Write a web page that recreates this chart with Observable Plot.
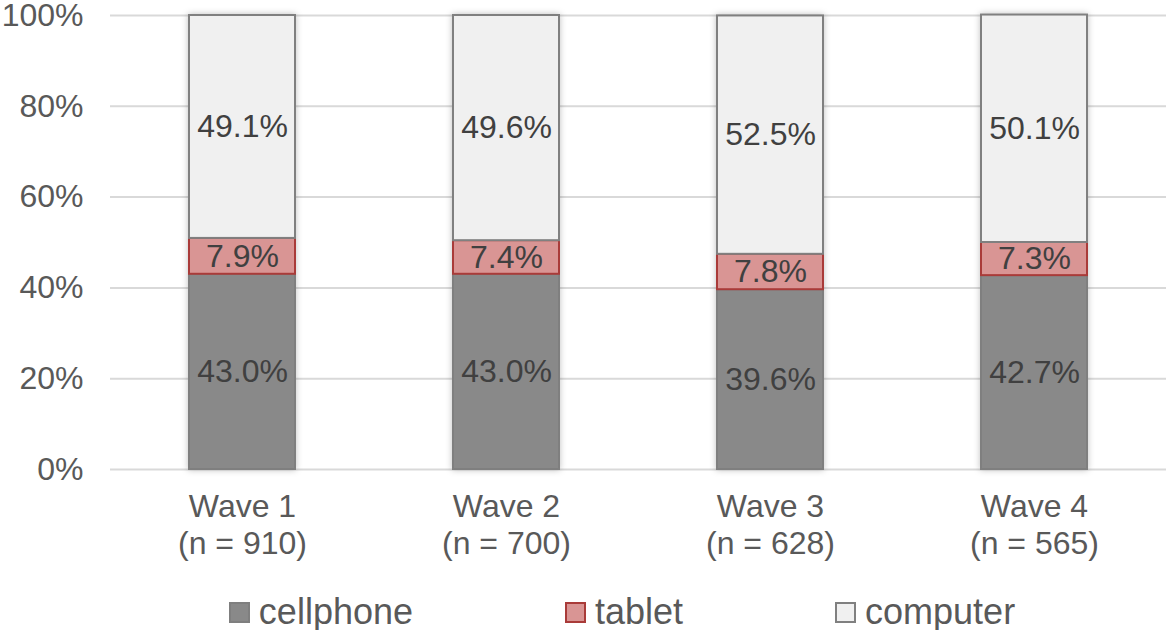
<!DOCTYPE html>
<html>
<head>
<meta charset="utf-8">
<script src="https://cdn.jsdelivr.net/npm/d3@7"></script>
<script src="https://cdn.jsdelivr.net/npm/@observablehq/plot@0.6"></script>
<style>
  body { margin: 0; background: #fff; font-family: "Liberation Sans", Arial, sans-serif; }
  #chart svg { display: block; }
  .legend { display: flex; justify-content: center; align-items: center; gap: 152px; margin-top: 14px; height: 36px; font-size: 36px; color: #595959; padding-left: 76px; }
  .legend .item { display: flex; align-items: center; gap: 9px; }
  .legend .sw { width: 17px; height: 17px; border: 2px solid; }
</style>
</head>
<body>
<div id="chart"></div>
<div class="legend" id="legend"></div>
<script>
const waves = ["Wave 1\n(n = 910)", "Wave 2\n(n = 700)", "Wave 3\n(n = 628)", "Wave 4\n(n = 565)"];
const devices = ["cellphone", "tablet", "computer"];
const cellphone = [43.0, 43.0, 39.6, 42.7];
const tablet = [7.9, 7.4, 7.8, 7.3];
const computer = [49.1, 49.6, 52.5, 50.1];
const yTicks = [0, 20, 40, 60, 80, 100];

const fills = ["#898989", "#d99594", "#f0f0f0"];
const strokes = ["#7f7f7f", "#a93b39", "#808080"];

const series = {cellphone, tablet, computer};
const data = [];
devices.forEach(d => waves.forEach((w, i) => data.push({wave: w, device: d, value: series[d][i]})));

const plot = Plot.plot({
  width: 1168,
  height: 580,
  marginLeft: 110,
  marginRight: 2,
  marginTop: 15,
  marginBottom: 111,
  style: {fontFamily: "'Liberation Sans', Arial, sans-serif", color: "#595959", background: "#fff"},
  x: {domain: waves, paddingInner: 0.6, paddingOuter: 0.3, label: null},
  y: {domain: [0, 100], label: null},
  color: {domain: devices, range: fills},
  marks: [
    Plot.gridY(yTicks, {stroke: "#d9d9d9", strokeOpacity: 1, strokeWidth: 2}),
    Plot.axisY(yTicks, {tickSize: 0, tickPadding: 27, fontSize: 32, fill: "#595959", tickFormat: d => d + "%", label: null}),
    Plot.axisX({tickSize: 0, tickPadding: 21, fontSize: 32, fill: "#595959", lineHeight: 1.16, label: null}),
    Plot.barY(data, Plot.stackY({
      x: "wave", y: "value", fill: "device",
      stroke: d => strokes[devices.indexOf(d.device)],
      strokeWidth: 2,
      imageFilter: "drop-shadow(0px 0px 3px rgba(0,0,0,0.25))"
    })),
    Plot.text(data, Plot.stackY({
      x: "wave", y: "value", z: "device",
      text: d => d.value.toFixed(1) + "%",
      fontSize: 32, fill: "#404040"
    }))
  ]
});
document.getElementById("chart").appendChild(plot);

const legend = document.getElementById("legend");
devices.forEach((d, i) => {
  const it = document.createElement("div");
  it.className = "item";
  it.innerHTML = `<span class="sw" style="background:${fills[i]};border-color:${strokes[i]}"></span><span>${d}</span>`;
  legend.appendChild(it);
});
</script>
</body>
</html>
